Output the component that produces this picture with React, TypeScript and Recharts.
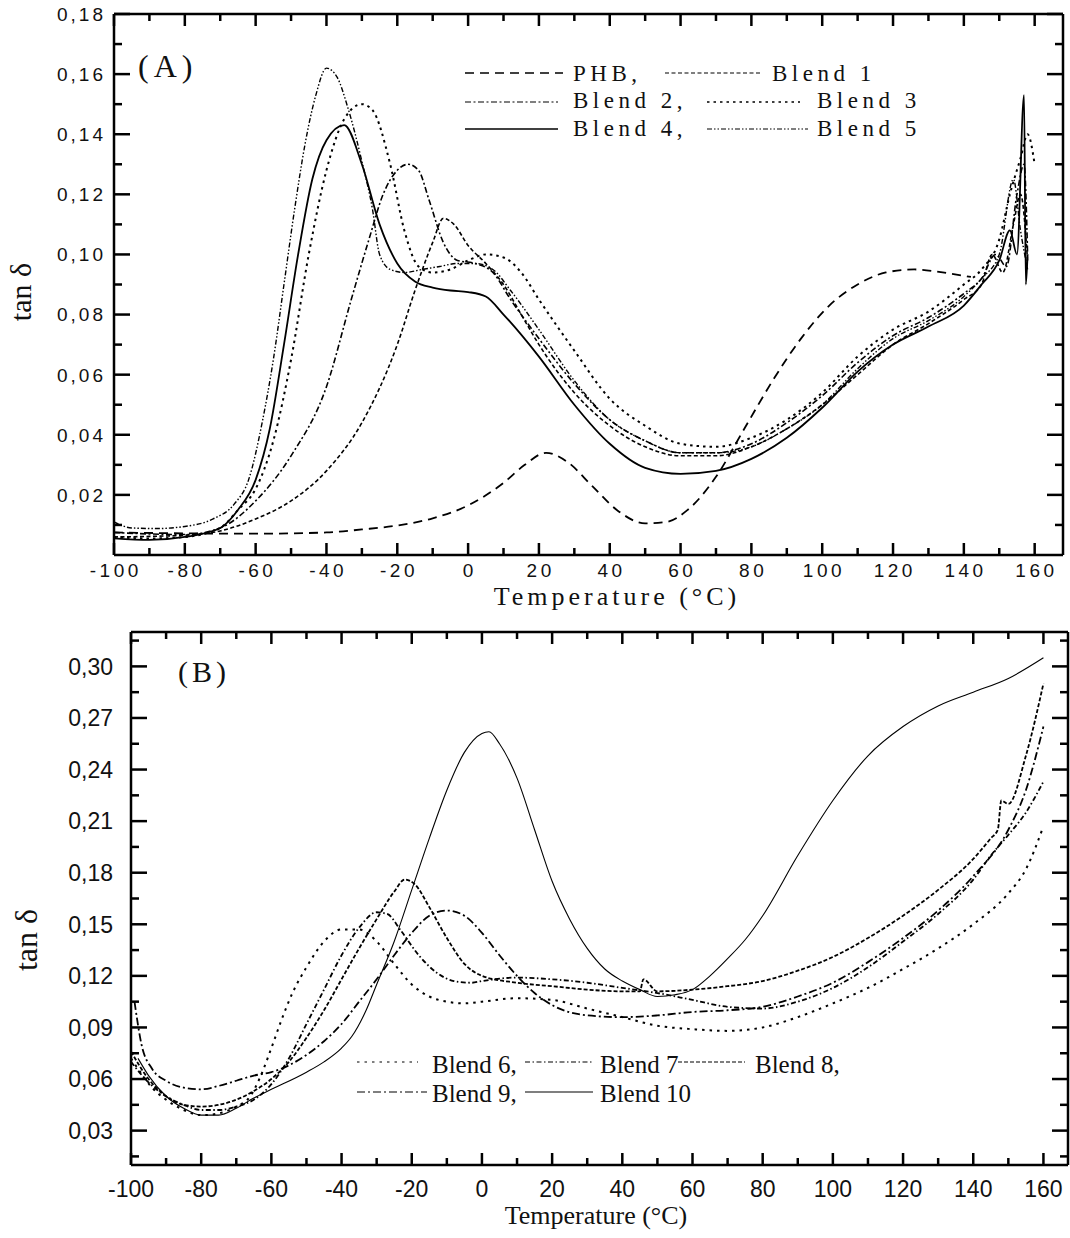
import { LineChart, Line, XAxis, YAxis } from 'recharts';

// temperature sweep, -100..160 °C every 10 (labels only on every 20)
const tempTicks = [-100, -90, -80, -70, -60, -50, -40, -30, -20, -10, 0, 10, 20, 30, 40, 50, 60, 70, 80, 90, 100, 110, 120, 130, 140, 150, 160];
const tanTicksA = [0.01, 0.02, 0.03, 0.04, 0.05, 0.06, 0.07, 0.08, 0.09, 0.1, 0.11, 0.12, 0.13, 0.14, 0.15, 0.16, 0.17, 0.18];
const tanTicksB = [0.015, 0.03, 0.045, 0.06, 0.075, 0.09, 0.105, 0.12, 0.135, 0.15, 0.165, 0.18, 0.195, 0.21, 0.225, 0.24, 0.255, 0.27, 0.285, 0.3, 0.315];

// (A) PHB and blends 1-5
const phbT = [-100, -80, -60, -40, -30, -20, -10, 0, 10, 16, 22, 28, 35, 42, 50, 56, 62, 70, 78, 86, 94, 102, 110, 118, 126, 134, 142];
const phbV = [0.0075, 0.0072, 0.0071, 0.0075, 0.0085, 0.0098, 0.0122, 0.0165, 0.024, 0.03, 0.034, 0.031, 0.023, 0.015, 0.0105, 0.011, 0.015, 0.026, 0.042, 0.058, 0.072, 0.083, 0.09, 0.094, 0.095, 0.094, 0.0925];

const blend1T = [-100, -90, -80, -70, -60, -50, -40, -30, -20, -15, -10, -7, -4, 0, 5, 10, 15, 20, 30, 40, 50, 60, 70, 80, 90, 100, 110, 120, 130, 140, 145, 148, 151, 154, 156, 158];
const blend1V = [0.006, 0.0062, 0.0066, 0.008, 0.012, 0.018, 0.028, 0.044, 0.07, 0.088, 0.104, 0.112, 0.11, 0.103, 0.097, 0.09, 0.08, 0.07, 0.054, 0.043, 0.036, 0.033, 0.033, 0.036, 0.042, 0.05, 0.06, 0.07, 0.077, 0.085, 0.09, 0.1, 0.094, 0.11, 0.12, 0.098];

const blend2T = [-100, -90, -80, -70, -60, -50, -40, -33, -28, -24, -20, -17, -14, -11, -7, -3, 2, 7, 12, 20, 30, 40, 50, 60, 70, 80, 90, 100, 110, 120, 130, 140, 145, 149, 152, 155, 157, 158];
const blend2V = [0.0075, 0.007, 0.0068, 0.009, 0.018, 0.033, 0.056, 0.085, 0.105, 0.12, 0.128, 0.13, 0.128, 0.118, 0.104, 0.098, 0.097, 0.094, 0.085, 0.072, 0.057, 0.045, 0.038, 0.034, 0.034, 0.037, 0.044, 0.053, 0.064, 0.073, 0.079, 0.087, 0.092, 0.1, 0.096, 0.12, 0.13, 0.1];

const blend3T = [-100, -90, -80, -70, -65, -60, -55, -50, -45, -40, -35, -30, -27, -22, -18, -14, -10, -5, 0, 5, 10, 15, 20, 30, 40, 50, 60, 70, 80, 90, 100, 110, 120, 130, 140, 145, 150, 153, 156, 158, 160];
const blend3V = [0.006, 0.0055, 0.006, 0.009, 0.015, 0.022, 0.038, 0.065, 0.1, 0.128, 0.145, 0.15, 0.148, 0.13, 0.108, 0.096, 0.094, 0.095, 0.098, 0.1, 0.099, 0.094, 0.085, 0.068, 0.052, 0.043, 0.037, 0.036, 0.039, 0.045, 0.054, 0.066, 0.075, 0.081, 0.09, 0.095, 0.105, 0.12, 0.132, 0.14, 0.13];

const blend4T = [-100, -90, -80, -70, -65, -60, -56, -52, -48, -44, -40, -35, -30, -25, -20, -15, -10, -5, 0, 5, 10, 20, 30, 40, 50, 60, 70, 80, 90, 100, 110, 120, 130, 140, 145, 150, 153, 155, 157, 157.5, 158];
const blend4V = [0.0055, 0.005, 0.006, 0.009, 0.015, 0.025, 0.042, 0.07, 0.1, 0.125, 0.138, 0.143, 0.13, 0.11, 0.097, 0.091, 0.089, 0.088, 0.0875, 0.086, 0.08, 0.066, 0.05, 0.037, 0.029, 0.027, 0.028, 0.032, 0.039, 0.049, 0.061, 0.07, 0.076, 0.083, 0.09, 0.098, 0.108, 0.1, 0.153, 0.09, 0.1];

const blend5T = [-100, -95, -88, -80, -72, -66, -62, -58, -55, -52, -49, -46, -43, -40, -37, -34, -30, -27, -25, -22, -18, -13, -8, -3, 2, 7, 12, 20, 30, 40, 50, 60, 70, 80, 90, 100, 110, 120, 130, 140, 145, 150, 154, 156, 158];
const blend5V = [0.011, 0.009, 0.0088, 0.0095, 0.012, 0.017, 0.025, 0.045, 0.065, 0.09, 0.115, 0.137, 0.153, 0.162, 0.159, 0.149, 0.131, 0.115, 0.1, 0.095, 0.094, 0.095, 0.096, 0.097, 0.097, 0.095, 0.088, 0.075, 0.058, 0.045, 0.038, 0.034, 0.034, 0.036, 0.042, 0.05, 0.062, 0.072, 0.078, 0.086, 0.092, 0.1, 0.125, 0.108, 0.095];

// (B) blends 6-10
const blend6T = [-100, -97, -94, -90, -85, -80, -75, -70, -66, -63, -60, -57, -54, -50, -45, -40, -35, -30, -25, -20, -15, -10, -5, 0, 10, 20, 30, 40, 50, 60, 70, 80, 90, 100, 110, 120, 130, 140, 150, 155, 160];
const blend6V = [0.072, 0.063, 0.055, 0.048, 0.042, 0.039, 0.04, 0.044, 0.05, 0.062, 0.078, 0.095, 0.11, 0.125, 0.14, 0.147, 0.147, 0.14, 0.127, 0.115, 0.108, 0.105, 0.104, 0.105, 0.107, 0.106, 0.101, 0.096, 0.091, 0.089, 0.088, 0.09, 0.096, 0.104, 0.113, 0.124, 0.136, 0.15, 0.168, 0.182, 0.207];

const blend7T = [-100, -95, -90, -85, -80, -75, -70, -65, -60, -55, -50, -45, -40, -35, -30, -27, -23, -18, -13, -8, -3, 0, 10, 20, 30, 40, 50, 60, 70, 80, 90, 100, 110, 120, 130, 140, 145, 150, 155, 160];
const blend7V = [0.07, 0.058, 0.05, 0.045, 0.042, 0.042, 0.044, 0.048, 0.057, 0.072, 0.092, 0.112, 0.132, 0.148, 0.157, 0.156, 0.146, 0.132, 0.122, 0.117, 0.116, 0.117, 0.119, 0.118, 0.116, 0.113, 0.11, 0.106, 0.102, 0.101, 0.105, 0.113, 0.125, 0.14, 0.156, 0.176, 0.19, 0.202, 0.215, 0.233];

const blend8T = [-100, -95, -90, -85, -80, -75, -70, -65, -60, -55, -50, -45, -40, -35, -30, -25, -22, -19, -15, -10, -5, 0, 10, 20, 30, 40, 45, 46, 50, 60, 70, 80, 90, 100, 110, 120, 130, 140, 145, 147, 148, 150, 155, 160];
const blend8V = [0.076, 0.06, 0.05, 0.045, 0.044, 0.045, 0.048, 0.053, 0.06, 0.07, 0.084, 0.1, 0.118, 0.136, 0.153, 0.169, 0.176, 0.173, 0.16, 0.142, 0.127, 0.12, 0.116, 0.114, 0.112, 0.111, 0.111, 0.118, 0.111, 0.112, 0.114, 0.117, 0.123, 0.131, 0.142, 0.155, 0.17, 0.188, 0.2, 0.205, 0.222, 0.22, 0.248, 0.29];

const blend9T = [-99, -97, -94, -90, -85, -80, -75, -70, -65, -60, -55, -50, -45, -40, -35, -30, -25, -20, -15, -10, -5, 0, 5, 10, 15, 20, 30, 40, 50, 60, 70, 80, 90, 100, 110, 120, 130, 140, 150, 155, 160];
const blend9V = [0.105, 0.08, 0.066, 0.059, 0.055, 0.054, 0.056, 0.059, 0.062, 0.064, 0.068, 0.074, 0.082, 0.092, 0.105, 0.118, 0.132, 0.145, 0.155, 0.158, 0.155, 0.145, 0.132, 0.12, 0.11, 0.103, 0.097, 0.096, 0.097, 0.099, 0.1, 0.102, 0.108, 0.116, 0.128, 0.142, 0.158, 0.178, 0.205, 0.228, 0.265];

const blend10T = [-98, -95, -90, -85, -80, -75, -70, -65, -60, -50, -45, -40, -37, -33, -30, -25, -20, -15, -10, -5, 0, 2, 5, 10, 15, 20, 25, 30, 35, 40, 45, 50, 55, 60, 65, 70, 75, 80, 90, 100, 110, 120, 130, 140, 150, 160];
const blend10V = [0.072, 0.062, 0.05, 0.043, 0.039, 0.039, 0.043, 0.049, 0.054, 0.064, 0.07, 0.078, 0.085, 0.1, 0.115, 0.14, 0.17, 0.2, 0.228, 0.25, 0.261, 0.262, 0.255, 0.235, 0.205, 0.175, 0.153, 0.136, 0.124, 0.117, 0.112, 0.108, 0.109, 0.112, 0.12, 0.13, 0.141, 0.155, 0.19, 0.222, 0.248, 0.265, 0.277, 0.285, 0.293, 0.305];

const zip = (t: number[], v: number[]) => t.map((x, i) => ({ t: x, v: v[i] }));

const seriesA = [
  { name: 'PHB', data: zip(phbT, phbV), dash: '9 6', w: 1.8 },
  { name: 'Blend 1', data: zip(blend1T, blend1V), dash: '4 2.5', w: 1.6 },
  { name: 'Blend 2', data: zip(blend2T, blend2V), dash: '6 2.5 2 2.5', w: 1.6 },
  { name: 'Blend 3', data: zip(blend3T, blend3V), dash: '2.5 4', w: 2 },
  { name: 'Blend 4', data: zip(blend4T, blend4V), dash: undefined, w: 1.8 },
  { name: 'Blend 5', data: zip(blend5T, blend5V), dash: '5 2 1.5 2 1.5 2', w: 1.4 },
];

const seriesB = [
  { name: 'Blend 6', data: zip(blend6T, blend6V), dash: '2.5 5', w: 2 },
  { name: 'Blend 7', data: zip(blend7T, blend7V), dash: '5 2.5 1.5 2.5', w: 1.8 },
  { name: 'Blend 8', data: zip(blend8T, blend8V), dash: '4 2', w: 1.8 },
  { name: 'Blend 9', data: zip(blend9T, blend9V), dash: '8 3 2 3', w: 1.8 },
  { name: 'Blend 10', data: zip(blend10T, blend10V), dash: undefined, w: 1.1 },
];

const SANS = '"Liberation Sans", Arial, sans-serif';
const SERIF = '"Liberation Serif", "Times New Roman", serif';
const comma = (v: number) => v.toFixed(2).replace('.', ',');

type TickCfg = { major: (v: number) => boolean; len: number; minor: number; fs?: number; ls?: number; gap?: number; fmt?: (v: number) => string };

// bottom axis: inward tick marks, label under the axis line
function BottomTick(p: any) {
  const c: TickCfg = p.cfg;
  const isMajor = c.major(p.payload.value);
  return (
    <g>
      <line x1={p.x} y1={p.y} x2={p.x} y2={p.y - (isMajor ? c.len : c.minor)} stroke="#000" strokeWidth={2.5} />
      {isMajor && (
        <text x={p.x + (c.ls || 0) / 2} y={p.y + (c.gap || 0)} textAnchor="middle" fontFamily={SANS} fontSize={c.fs} letterSpacing={c.ls} fill="#111">
          {p.payload.value}
        </text>
      )}
    </g>
  );
}

function TopTick(p: any) {
  const c: TickCfg = p.cfg;
  const isMajor = c.major(p.payload.value);
  return <line x1={p.x} y1={p.y} x2={p.x} y2={p.y + (isMajor ? c.len : c.minor)} stroke="#000" strokeWidth={2.5} />;
}

function LeftTick(p: any) {
  const c: TickCfg = p.cfg;
  const isMajor = c.major(p.payload.value);
  return (
    <g>
      <line x1={p.x} y1={p.y} x2={p.x + (isMajor ? c.len : c.minor)} y2={p.y} stroke="#000" strokeWidth={2.5} />
      {isMajor && (
        <text x={p.x - (c.gap || 0) + (c.ls || 0)} y={p.y} dy="0.36em" textAnchor="end" fontFamily={SANS} fontSize={c.fs} letterSpacing={c.ls} fill="#111">
          {c.fmt ? c.fmt(p.payload.value) : p.payload.value}
        </text>
      )}
    </g>
  );
}

function RightTick(p: any) {
  const c: TickCfg = p.cfg;
  const isMajor = c.major(p.payload.value);
  return <line x1={p.x} y1={p.y} x2={p.x - (isMajor ? c.len : c.minor)} y2={p.y} stroke="#000" strokeWidth={2.5} />;
}

const axisLine = { stroke: '#000', strokeWidth: 2.5 };
const xMajor = (v: number) => v % 20 === 0;
const yMajorA = (v: number) => Math.round(v * 100) % 2 === 0;
const yMajorB = (v: number) => Math.round(v * 1000) % 30 === 0;

type Frame = {
  width: number; height: number; left: number; right: number; top: number; bottom: number;
  xDomain: [number, number]; yDomain: [number, number]; yTicks: number[];
  xCfg: TickCfg; yCfg: TickCfg; sideX: TickCfg; sideY: TickCfg;
};

function Panel({ f, series }: { f: Frame; series: typeof seriesA }) {
  return (
    <LineChart width={f.width} height={f.height} margin={{ top: f.top - 1, right: f.right - 1, left: 0, bottom: 0 }}>
      <XAxis dataKey="t" type="number" domain={f.xDomain} ticks={tempTicks} interval={0} allowDataOverflow
        height={f.bottom} axisLine={axisLine} tickLine={false} tickSize={0} tickMargin={0}
        tick={(p: any) => <BottomTick {...p} cfg={f.xCfg} />} />
      <XAxis xAxisId="top" orientation="top" dataKey="t" type="number" domain={f.xDomain} ticks={tempTicks} interval={0} allowDataOverflow
        height={1} axisLine={axisLine} tickLine={false} tickSize={0} tickMargin={0}
        tick={(p: any) => <TopTick {...p} cfg={f.sideX} />} />
      <YAxis type="number" domain={f.yDomain} ticks={f.yTicks} interval={0} allowDataOverflow
        width={f.left} axisLine={axisLine} tickLine={false} tickSize={0} tickMargin={0}
        tick={(p: any) => <LeftTick {...p} cfg={f.yCfg} />} />
      <YAxis yAxisId="right" orientation="right" type="number" domain={f.yDomain} ticks={f.yTicks} interval={0} allowDataOverflow
        width={1} axisLine={axisLine} tickLine={false} tickSize={0} tickMargin={0}
        tick={(p: any) => <RightTick {...p} cfg={f.sideY} />} />
      {series.map((s) => (
        <Line key={s.name} data={s.data} dataKey="v" name={s.name} type="monotone" stroke="#000"
          strokeWidth={s.w} strokeDasharray={s.dash} dot={false} activeDot={false} isAnimationActive={false} />
      ))}
    </LineChart>
  );
}

const frameA: Frame = {
  width: 1070, height: 620, left: 114, right: 7, top: 14, bottom: 65,
  xDomain: [-100, 168], yDomain: [0, 0.18], yTicks: tanTicksA,
  xCfg: { major: xMajor, len: 12, minor: 7, fs: 19, ls: 3.5, gap: 22 },
  yCfg: { major: yMajorA, len: 16, minor: 8, fs: 19, ls: 3, gap: 11, fmt: comma },
  sideX: { major: xMajor, len: 12, minor: 7 },
  sideY: { major: yMajorA, len: 16, minor: 8 },
};

const frameB: Frame = {
  width: 1070, height: 618, left: 131, right: 2, top: 12, bottom: 73,
  xDomain: [-100, 167], yDomain: [0.01, 0.32], yTicks: tanTicksB,
  xCfg: { major: xMajor, len: 12, minor: 7, fs: 23, ls: 0, gap: 32 },
  yCfg: { major: yMajorB, len: 16, minor: 8, fs: 23, ls: 0, gap: 18, fmt: comma },
  sideX: { major: xMajor, len: 12, minor: 7 },
  sideY: { major: yMajorB, len: 16, minor: 8 },
};

function Sample({ x1, x2, y, dash, w }: { x1: number; x2: number; y: number; dash?: string; w: number }) {
  return <line x1={x1} x2={x2} y1={y} y2={y} stroke="#000" strokeWidth={w} strokeDasharray={dash} />;
}

export default function App() {
  const [phb, b1, b2, b3, b4, b5] = seriesA;
  const [b6, b7, b8, b9, b10] = seriesB;
  const legA = { fontFamily: SERIF, fontSize: 23, letterSpacing: 4.5, fill: '#111' };
  const legB = { fontFamily: SERIF, fontSize: 25, fill: '#111' };
  return (
    <div style={{ position: 'absolute', left: 0, top: 0, width: 1070, height: 1238, background: '#fff' }}>
      <div style={{ position: 'absolute', left: 0, top: 0 }}>
        <Panel f={frameA} series={seriesA} />
      </div>
      <div style={{ position: 'absolute', left: 0, top: 620 }}>
        <Panel f={frameB} series={seriesB} />
      </div>
      <svg width={1070} height={1238} style={{ position: 'absolute', left: 0, top: 0, pointerEvents: 'none' }}>
        {/* panel (A) */}
        <text x={138} y={77} fontFamily={SERIF} fontSize={32} letterSpacing={5} fill="#111">(A)</text>
        <Sample x1={465} x2={563} y={73} dash={phb.dash} w={1.6} />
        <text x={573} y={81} {...legA}>PHB,</text>
        <Sample x1={665} x2={760} y={73} dash={b1.dash} w={1.2} />
        <text x={772} y={81} {...legA}>Blend 1</text>
        <Sample x1={465} x2={558} y={102} dash={b2.dash} w={1.2} />
        <text x={573} y={108} {...legA}>Blend 2,</text>
        <Sample x1={707} x2={800} y={102} dash={b3.dash} w={1.4} />
        <text x={817} y={108} {...legA}>Blend 3</text>
        <Sample x1={465} x2={558} y={129} dash={b4.dash} w={1.6} />
        <text x={573} y={136} {...legA}>Blend 4,</text>
        <Sample x1={707} x2={808} y={129} dash={b5.dash} w={1.2} />
        <text x={817} y={136} {...legA}>Blend 5</text>
        <text x={617} y={605} textAnchor="middle" fontFamily={SERIF} fontSize={26} letterSpacing={4} fill="#111">Temperature (°C)</text>
        <text transform="translate(31,292) rotate(-90)" textAnchor="middle" fontFamily={SERIF} fontSize={30} fill="#111">tan δ</text>

        {/* panel (B) */}
        <text x={178} y={682} fontFamily={SERIF} fontSize={30} letterSpacing={4} fill="#111">(B)</text>
        <Sample x1={357} x2={418} y={1062} dash={b6.dash} w={1.2} />
        <text x={432} y={1073} {...legB}>Blend 6,</text>
        <Sample x1={525} x2={593} y={1062} dash={b7.dash} w={1.2} />
        <text x={600} y={1073} {...legB}>Blend 7</text>
        <Sample x1={678} x2={745} y={1062} dash={b8.dash} w={1.2} />
        <text x={755} y={1073} {...legB}>Blend 8,</text>
        <Sample x1={357} x2={427} y={1092} dash={b9.dash} w={1.2} />
        <text x={432} y={1102} {...legB}>Blend 9,</text>
        <Sample x1={525} x2={593} y={1092} dash={b10.dash} w={1.1} />
        <text x={600} y={1102} {...legB}>Blend 10</text>
        <text x={596} y={1224} textAnchor="middle" fontFamily={SERIF} fontSize={26} fill="#111">Temperature (°C)</text>
        <text transform="translate(37,940) rotate(-90)" textAnchor="middle" fontFamily={SERIF} fontSize={32} fill="#111">tan δ</text>
      </svg>
    </div>
  );
}
